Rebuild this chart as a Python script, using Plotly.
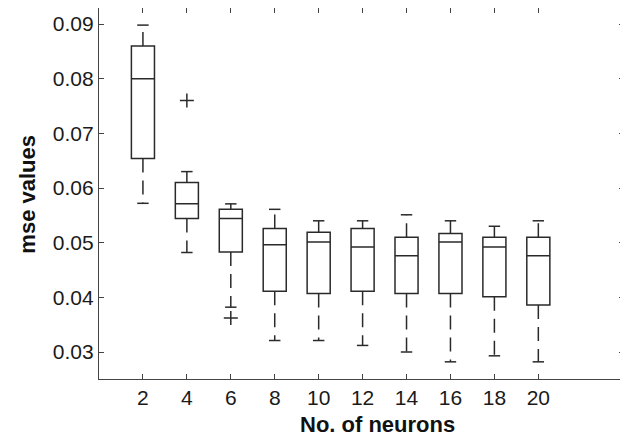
import plotly.graph_objects as go

neurons = [2, 4, 6, 8, 10, 12, 14, 16, 18, 20]
upper_whisker = [0.0898, 0.0630, 0.0571, 0.0561, 0.0540, 0.0540, 0.0551, 0.0540, 0.0530, 0.0540]
q3 = [0.0860, 0.0610, 0.0561, 0.0526, 0.0519, 0.0526, 0.0510, 0.0517, 0.0510, 0.0510]
median = [0.0800, 0.0571, 0.0544, 0.0496, 0.0501, 0.0492, 0.0476, 0.0501, 0.0492, 0.0476]
q1 = [0.0654, 0.0544, 0.0483, 0.0411, 0.0407, 0.0411, 0.0407, 0.0407, 0.0401, 0.0386]
lower_whisker = [0.0572, 0.0482, 0.0382, 0.0321, 0.0321, 0.0312, 0.0300, 0.0282, 0.0293, 0.0282]
outlier_x = [4, 6]
outlier_y = [0.0760, 0.0362]
y_ticks = [0.03, 0.04, 0.05, 0.06, 0.07, 0.08, 0.09]
y_tick_labels = ["0.03", "0.04", "0.05", "0.06", "0.07", "0.08", "0.09"]

LC = "#2a2a2a"
BOX_W = 1.05
CAP_HALF = 0.26
FONT = "Liberation Sans, Arial, sans-serif"

fig = go.Figure()

fig.add_trace(go.Box(
    x=neurons, q1=q1, median=median, q3=q3,
    lowerfence=q1, upperfence=q3,
    width=BOX_W, whiskerwidth=0,
    line=dict(color=LC, width=1.5),
    fillcolor="rgba(0,0,0,0)",
    boxpoints=False, showlegend=False, hoverinfo="skip",
))

# whiskers (dashed)
wx, wy = [], []
for n, a, b, c, d in zip(neurons, q3, upper_whisker, q1, lower_whisker):
    wx += [n, n, None, n, n, None]
    wy += [a, b, None, c, d, None]
fig.add_trace(go.Scatter(x=wx, y=wy, mode="lines",
                         line=dict(color=LC, width=1.5, dash="14px,8px"),
                         showlegend=False, hoverinfo="skip"))

# caps
cx, cy = [], []
for n, b, d in zip(neurons, upper_whisker, lower_whisker):
    cx += [n - CAP_HALF, n + CAP_HALF, None, n - CAP_HALF, n + CAP_HALF, None]
    cy += [b, b, None, d, d, None]
fig.add_trace(go.Scatter(x=cx, y=cy, mode="lines",
                         line=dict(color=LC, width=1.5),
                         showlegend=False, hoverinfo="skip"))

# outliers
fig.add_trace(go.Scatter(x=outlier_x, y=outlier_y, mode="markers",
                         marker=dict(symbol="cross-thin", size=10,
                                     line=dict(color=LC, width=1.5)),
                         showlegend=False, hoverinfo="skip"))

axis_common = dict(showline=True, linecolor="#444", linewidth=1.3, mirror="ticks",
                   ticks="inside", ticklen=5, tickwidth=1, tickcolor="#444",
                   showgrid=False, zeroline=False,
                   tickfont=dict(family=FONT, size=21, color="#1a1a1a"))

fig.update_xaxes(range=[0, 23.9], tickvals=neurons, ticktext=[str(n) for n in neurons], **axis_common)
fig.update_yaxes(range=[0.02506, 0.09293], tickvals=y_ticks, ticktext=y_tick_labels, **axis_common)

fig.update_layout(
    width=620, height=429,
    margin=dict(l=91, r=4, t=0, b=58),
    plot_bgcolor="white", paper_bgcolor="white",
    annotations=[
        dict(text="<b>No. of neurons</b>", xref="paper", yref="paper", x=0.5314, y=-0.1213,
             xanchor="center", yanchor="middle", showarrow=False,
             font=dict(family=FONT, size=22, color="#111")),
        dict(text="<b>mse values</b>", xref="paper", yref="paper", x=-0.1352, y=0.497,
             xanchor="center", yanchor="middle", textangle=-90, showarrow=False,
             font=dict(family=FONT, size=22, color="#111")),
    ],
)

fig.write_html("out.html")
